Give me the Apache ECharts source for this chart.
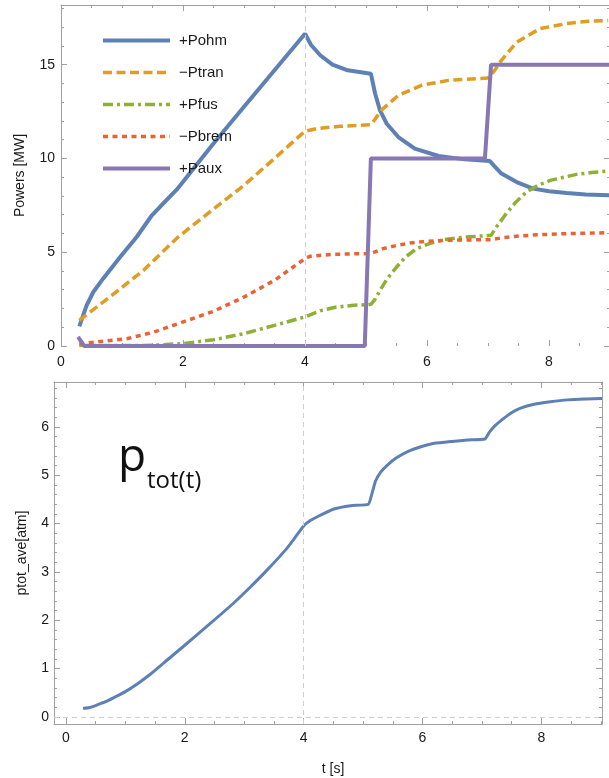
<!DOCTYPE html>
<html>
<head>
<meta charset="utf-8">
<script src="https://cdn.jsdelivr.net/npm/echarts@6/dist/echarts.min.js"></script>
<style>
  html, body { margin: 0; padding: 0; background: #fff; }
  #main { width: 609px; height: 778px; }
</style>
</head>
<body>
<div id="main"></div>
<script>
// time axes and values
const tOhm = [0.3, 0.42, 0.53, 0.69, 0.97, 1.24, 1.49, 1.62, 1.9, 2.5, 3.0, 3.5, 4.0, 4.1, 4.25, 4.45, 4.7, 5.08, 5.15, 5.23, 5.34, 5.53, 5.8, 6.19, 6.62, 7.03, 7.1, 7.22, 7.47, 7.74, 8.0, 8.29, 8.6, 9.0];
const pOhm = [1.05, 2.17, 2.88, 3.59, 4.74, 5.81, 6.97, 7.41, 8.35, 10.8, 12.76, 14.7, 16.65, 16.05, 15.5, 15.0, 14.7, 14.52, 13.45, 12.56, 11.85, 11.14, 10.52, 10.13, 9.95, 9.86, 9.6, 9.19, 8.74, 8.39, 8.25, 8.16, 8.08, 8.03];

const tTran = [0.3, 0.8, 1.35, 1.92, 2.5, 3.0, 3.5, 4.0, 4.19, 4.57, 5.08, 5.15, 5.26, 5.53, 5.91, 6.35, 7.0, 7.11, 7.22, 7.47, 7.85, 8.29, 8.6, 8.97];
const pTran = [1.37, 2.61, 4.03, 5.81, 7.3, 8.57, 10.0, 11.45, 11.59, 11.71, 11.8, 12.1, 12.6, 13.36, 13.9, 14.16, 14.29, 14.7, 15.23, 16.2, 16.92, 17.19, 17.3, 17.36];

const tFus = [0.3, 1.0, 1.5, 2.0, 2.5, 3.0, 3.5, 4.0, 4.25, 4.5, 4.8, 5.08, 5.15, 5.23, 5.35, 5.5, 5.65, 5.83, 6.05, 6.27, 6.6, 7.05, 7.15, 7.3, 7.45, 7.63, 7.82, 8.02, 8.25, 8.45, 8.7, 8.97];
const pFus = [0.02, 0.02, 0.04, 0.13, 0.33, 0.66, 1.1, 1.55, 1.88, 2.07, 2.17, 2.22, 2.5, 2.97, 3.6, 4.21, 4.75, 5.19, 5.47, 5.67, 5.8, 5.9, 6.4, 7.06, 7.65, 8.21, 8.57, 8.83, 9.0, 9.15, 9.25, 9.33];

const tBrem = [0.3, 0.6, 1.08, 1.5, 1.92, 2.5, 3.0, 3.5, 4.0, 4.08, 4.46, 5.08, 5.28, 5.5, 5.72, 6.0, 6.38, 7.05, 7.25, 7.47, 7.8, 8.29, 8.97];
const pBrem = [0.12, 0.22, 0.39, 0.72, 1.19, 1.85, 2.61, 3.5, 4.66, 4.78, 4.89, 4.93, 5.19, 5.36, 5.49, 5.58, 5.64, 5.67, 5.78, 5.85, 5.93, 5.99, 6.04];

const tAux = [0.28, 0.38, 4.98, 5.08, 6.95, 7.05, 9.0];
const pAux = [0.48, 0, 0, 10, 10, 15, 15];

const tTot = [0.29, 0.4, 0.5, 0.6, 0.7, 0.8, 1.0, 1.2, 1.42, 1.7, 2.0, 2.4, 2.82, 3.1, 3.38, 3.7, 3.85, 4.0, 4.1, 4.23, 4.51, 4.79, 5.09, 5.15, 5.21, 5.3, 5.41, 5.55, 5.75, 6.0, 6.2, 6.5, 6.76, 7.05, 7.12, 7.2, 7.35, 7.49, 7.65, 7.88, 8.15, 8.44, 8.75, 9.02];
const pTot = [0.17, 0.19, 0.23, 0.28, 0.33, 0.39, 0.52, 0.68, 0.88, 1.17, 1.48, 1.9, 2.35, 2.68, 3.03, 3.46, 3.7, 3.95, 4.05, 4.14, 4.3, 4.37, 4.4, 4.62, 4.88, 5.07, 5.21, 5.35, 5.49, 5.6, 5.66, 5.7, 5.73, 5.75, 5.88, 6.0, 6.16, 6.29, 6.39, 6.47, 6.52, 6.56, 6.58, 6.59];

// tick labels
const xTicks = [0, 2, 4, 6, 8];
const xMinor = [0, 0.5, 1, 1.5, 2, 2.5, 3, 3.5, 4, 4.5, 5, 5.5, 6, 6.5, 7, 7.5, 8, 8.5, 9];
const topYTicks = [0, 5, 10, 15];
const topYMinor = [0, 1, 2, 3, 4, 5, 6, 7, 8, 9, 10, 11, 12, 13, 14, 15, 16, 17, 18];
const botYTicks = [0, 1, 2, 3, 4, 5, 6];
const botYMinor = [0, 0.2, 0.4, 0.6, 0.8, 1, 1.2, 1.4, 1.6, 1.8, 2, 2.2, 2.4, 2.6, 2.8, 3, 3.2, 3.4, 3.6, 3.8, 4, 4.2, 4.4, 4.6, 4.8, 5, 5.2, 5.4, 5.6, 5.8, 6, 6.2, 6.4, 6.6, 6.8];

const frameColor = '#a0a0a0';
const labelFont = { color: '#1a1a1a', fontSize: 14, fontFamily: 'Liberation Sans' };

function pairs(t, v) {
  return t.map((x, i) => [x, v[i]]);
}

// one axis of the frame: ticks pointing inside, labels only where asked
function frameAxis(dim, gridIndex, pos, min, max, ticks, len, opts) {
  opts = opts || {};
  const ax = {
    type: 'value',
    gridIndex: gridIndex,
    position: pos,
    min: min,
    max: max,
    axisLine: { show: !!opts.line, onZero: false, lineStyle: { color: frameColor, width: 1 } },
    axisTick: { show: true, inside: true, length: len, customValues: ticks, lineStyle: { color: frameColor, width: 1 } },
    axisLabel: opts.labels ? Object.assign({ show: true, customValues: ticks, margin: opts.margin }, labelFont) : { show: false },
    splitLine: { show: false }
  };
  if (opts.name) {
    ax.name = opts.name;
    ax.nameLocation = 'middle';
    ax.nameGap = opts.nameGap;
    ax.nameTextStyle = Object.assign({ color: '#1a1a1a', fontSize: 14, fontFamily: 'Liberation Sans' }, opts.nameStyle || {});
  }
  return ax;
}

const chart = echarts.init(document.getElementById('main'), null, { renderer: 'canvas' });

const vline = {
  silent: true,
  symbol: 'none',
  label: { show: false },
  lineStyle: { color: '#cfcfcf', type: [5, 4], width: 1 }
};

function lineSeries(name, t, v, color, width, dash, grid) {
  return {
    name: name,
    type: 'line',
    xAxisIndex: grid === 0 ? 0 : 4,
    yAxisIndex: grid === 0 ? 0 : 4,
    data: pairs(t, v),
    showSymbol: false,
    symbol: 'none',
    lineStyle: { color: color, width: width, type: dash, cap: 'butt' },
    itemStyle: { color: color },
    z: 3
  };
}

const seriesList = [
  lineSeries('+Pohm', tOhm, pOhm, '#5E81B5', 4, 'solid', 0),
  lineSeries('\u2212Ptran', tTran, pTran, '#E19C24', 3.5, [9, 4.5], 0),
  lineSeries('+Pfus', tFus, pFus, '#8FB032', 3.5, [10, 4, 3, 4], 0),
  lineSeries('\u2212Pbrem', tBrem, pBrem, '#EB6235', 3.5, [5, 4.5], 0),
  lineSeries('+Paux', tAux, pAux, '#8778B3', 4, 'solid', 0),
  lineSeries('ptot', tTot, pTot, '#5E81B5', 3, 'solid', 1)
];
seriesList[5].smooth = 0.15;
seriesList[0].markLine = Object.assign({ data: [{ xAxis: 4 }] }, vline);
seriesList[5].markLine = Object.assign({ data: [{ xAxis: 4 }, { yAxis: 0 }] }, vline);

const option = {
  animation: false,
  backgroundColor: '#fff',
  grid: [
    { left: 61, top: 5, width: 549, height: 341, containLabel: false, outerBoundsMode: 'none' },
    { left: 54, top: 382, width: 548, height: 342, containLabel: false, outerBoundsMode: 'none' }
  ],
  xAxis: [
    frameAxis('x', 0, 'bottom', 0, 9, xTicks, 6, { labels: true, margin: 9 }),
    frameAxis('x', 0, 'bottom', 0, 9, xMinor, 3),
    frameAxis('x', 0, 'top', 0, 9, xTicks, 6, { line: true }),
    frameAxis('x', 0, 'top', 0, 9, xMinor, 3),
    frameAxis('x', 1, 'bottom', -0.2, 9.02, xTicks, 6, { line: true, labels: true, margin: 7, name: 't [s]', nameGap: 38, nameStyle: { padding: [0, 0, 0, 10] } }),
    frameAxis('x', 1, 'bottom', -0.2, 9.02, xMinor, 3),
    frameAxis('x', 1, 'top', -0.2, 9.02, xTicks, 6, { line: true }),
    frameAxis('x', 1, 'top', -0.2, 9.02, xMinor, 3)
  ],
  yAxis: [
    frameAxis('y', 0, 'left', 0, 18.18, topYTicks, 6, { line: true, labels: true, margin: 6, name: 'Powers [MW]', nameGap: 34 }),
    frameAxis('y', 0, 'left', 0, 18.18, topYMinor, 3),
    frameAxis('y', 0, 'right', 0, 18.18, topYTicks, 6),
    frameAxis('y', 0, 'right', 0, 18.18, topYMinor, 3),
    frameAxis('y', 1, 'left', -0.15, 6.93, botYTicks, 6, { line: true, labels: true, margin: 5, name: 'ptot_ave[atm]', nameGap: 25 }),
    frameAxis('y', 1, 'left', -0.15, 6.93, botYMinor, 3),
    frameAxis('y', 1, 'right', -0.15, 6.93, botYTicks, 6, { line: true }),
    frameAxis('y', 1, 'right', -0.15, 6.93, botYMinor, 3)
  ],
  legend: {
    data: ['+Pohm', '\u2212Ptran', '+Pfus', '\u2212Pbrem', '+Paux'],
    orient: 'vertical',
    left: 101,
    top: 33,
    padding: 0,
    itemWidth: 67,
    itemHeight: 14,
    itemGap: 17,
    lineStyle: { width: 'inherit', type: 'inherit' },
    itemStyle: { opacity: 0 },
    textStyle: { color: '#1a1a1a', fontSize: 15, fontFamily: 'Liberation Sans', padding: [0, 0, 0, 4] },
    selectedMode: false
  },
  graphic: [
    { type: 'text', left: 118, top: 435, style: { text: 'p', font: '46px "Open Sans"', fill: '#111' } },
    { type: 'text', left: 147, top: 469, style: { text: 'tot(t)', font: '24px "Open Sans"', fill: '#111' } }
  ],
  series: seriesList
};

chart.setOption(option);
</script>
</body>
</html>
